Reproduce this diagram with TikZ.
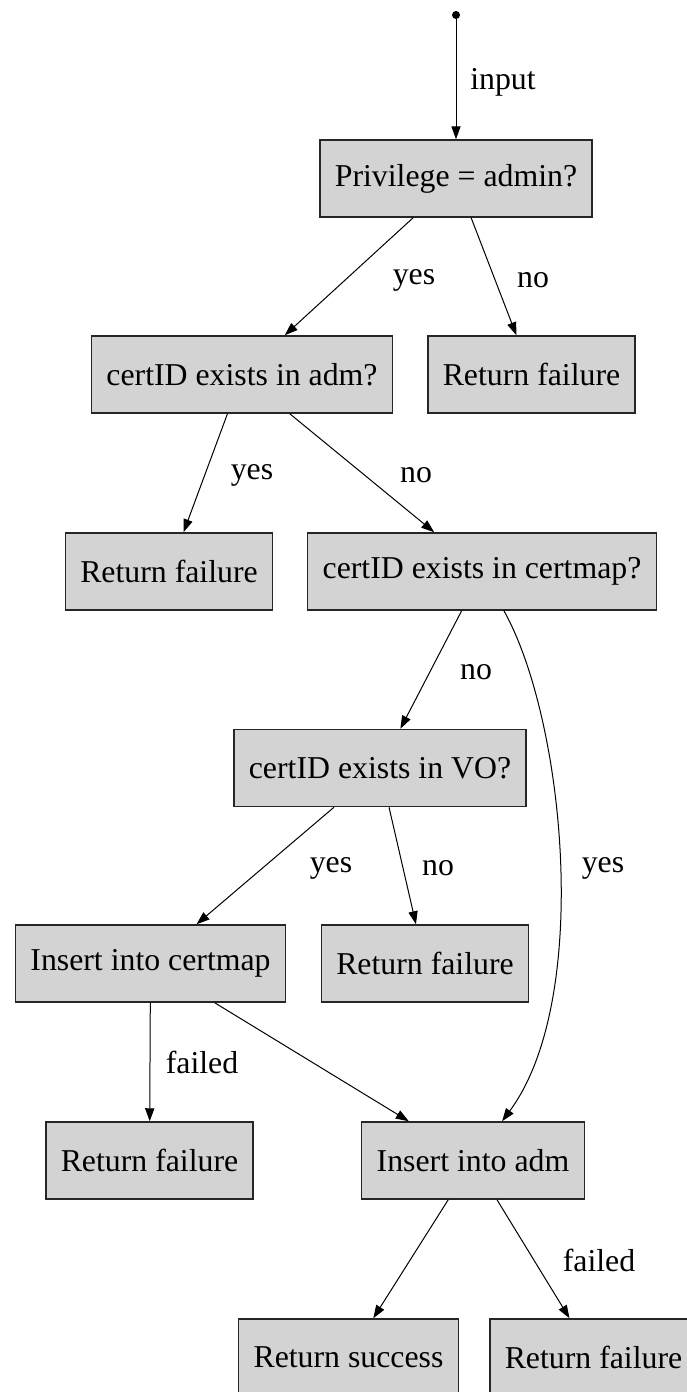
\documentclass[tikz,border=0pt]{standalone}
\usepackage{fontspec}
\setmainfont{Liberation Serif}
\usetikzlibrary{arrows.meta}
\definecolor{boxgray}{HTML}{D3D3D3}
\begin{document}
\begin{tikzpicture}[x=0.5pt,y=-0.5pt]
    \tikzset{
    box/.style={rectangle,draw=black!85,line width=0.75pt,fill=boxgray,minimum height=38.5pt,inner xsep=7.5pt,font=\fontsize{15.9}{18}\selectfont},
    lbl/.style={font=\fontsize{15.9}{18}\selectfont,inner sep=0pt},
    edge/.style={-{Triangle[length=6.5pt,width=4.6pt]},line width=0.5pt},
    }
    \useasboundingbox (0,0) rectangle (686,1392);
    \node[circle,fill,inner sep=0pt,minimum size=4pt] (s) at (456,15) {};
    \node[box] (n1) at (456,178.5) {Privilege = admin?};
    \node[box] (n2) at (242,374.5) {certID exists in adm?};
    \node[box] (n3) at (531.5,374.5) {Return failure};
    \node[box] (n4) at (169,571.5) {Return failure};
    \node[box] (n5) at (482,571.5) {certID exists in certmap?};
    \node[box] (n6) at (380,768) {certID exists in VO?};
    \node[box] (n7) at (150.5,963.5) {Insert into certmap};
    \node[box] (n8) at (425,963.5) {Return failure};
    \node[box] (n9) at (149.5,1160.5) {Return failure};
    \node[box] (n10) at (473,1160.5) {Insert into adm};
    \node[box] (n11) at (348.5,1357.5) {Return success};
    \node[box] (n12) at (593.5,1357.5) {Return failure};

    \draw[edge] (s) -- (n1);
    \draw[edge] (n1) -- (n2);
    \draw[edge] (n1) -- (n3);
    \draw[edge] (n2) -- (n4);
    \draw[edge] (n2) -- (n5);
    \draw[edge] (n5) -- (n6);
    \draw[edge] (n5) .. controls (565,720) and (592,1000) .. (n10);
    \draw[edge] (n6) -- (n7);
    \draw[edge] (n6) -- (n8);
    \draw[edge] (n7) -- (n9);
    \draw[edge] (n7) -- (n10);
    \draw[edge] (n10) -- (n11);
    \draw[edge] (n10) -- (n12);

    \node[lbl] (l0) at (503,82) {input};
    \node[lbl] (l1) at (414,280) {yes};
    \node[lbl] (l2) at (533,280) {no};
    \node[lbl] (l3) at (252,475) {yes};
    \node[lbl] (l4) at (416,475) {no};
    \node[lbl] (l5) at (476,672) {no};
    \node[lbl] (l6) at (331,868) {yes};
    \node[lbl] (l7) at (438,868) {no};
    \node[lbl] (l8) at (603,868) {yes};
    \node[lbl] (l9) at (202,1062) {failed};
    \node[lbl] (l10) at (599,1260) {failed};
\end{tikzpicture}
\end{document}
